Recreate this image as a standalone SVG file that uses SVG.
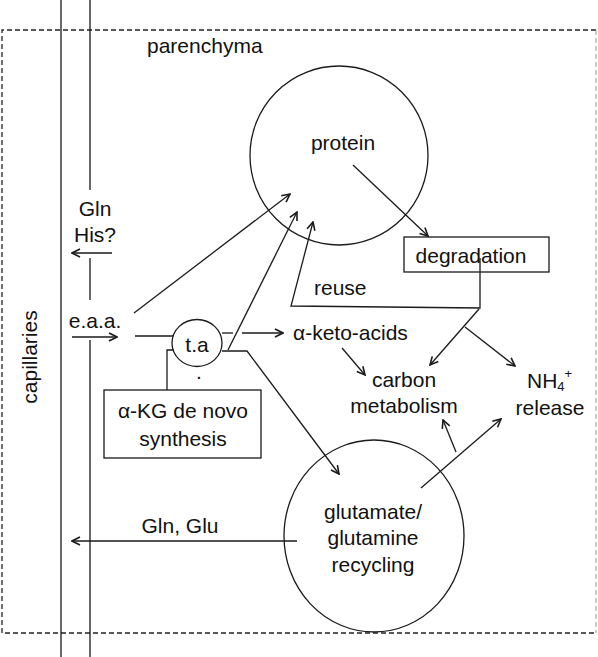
<svg xmlns="http://www.w3.org/2000/svg" width="598" height="657" viewBox="0 0 598 657">
<style>
text{font-family:"Liberation Sans",Arial,sans-serif;font-size:21px;fill:#111}
.m{text-anchor:middle}
.l{fill:none;stroke:#1a1a1a;stroke-width:1.3}
.a{marker-end:url(#ah)}
</style>
<defs>
<marker id="ah" viewBox="0 0 10 10" refX="9" refY="5" markerWidth="10" markerHeight="10" markerUnits="userSpaceOnUse" orient="auto">
<path d="M1,1 L9,5 L1,9" fill="none" stroke="#1a1a1a" stroke-width="1.6"/>
</marker>
</defs>
<g id="frame">
<path d="M596,30 L2,30 L2,633 L596,633" fill="none" stroke="#222" stroke-width="1.3" stroke-dasharray="5,3"/>
<path d="M596,30 L596,633" fill="none" stroke="#999" stroke-width="1" stroke-dasharray="5,3"/>
<text x="147" y="53">parenchyma</text>
</g>
<g id="capillaries">
<line x1="61" y1="0" x2="61" y2="657" class="l"/>
<path d="M90,0 L90,190 M90,258 L90,300 M90,340 L90,657" class="l"/>
<text class="m" transform="translate(37,357) rotate(-90)">capillaries</text>
</g>
<g id="protein">
<ellipse cx="339" cy="155.5" rx="89" ry="89.5" class="l"/>
<text x="343" y="150" class="m">protein</text>
</g>
<g id="degradation">
<rect x="404" y="237" width="145" height="35" class="l"/>
<text x="471" y="263" class="m">degradation</text>
</g>
<g id="ta">
<ellipse cx="197" cy="343" rx="25" ry="23.5" class="l"/>
<text x="197" y="352" class="m">t.a</text>
<text x="199" y="379" class="m">.</text>
</g>
<g id="akg">
<rect x="104" y="390" width="157" height="68" class="l"/>
<text x="183" y="418" class="m">α-KG de novo</text>
<text x="183" y="446" class="m">synthesis</text>
</g>
<g id="glutamate">
<ellipse cx="374" cy="536" rx="90" ry="96" class="l"/>
<text x="373" y="519" class="m">glutamate/</text>
<text x="373" y="545" class="m">glutamine</text>
<text x="373" y="572" class="m">recycling</text>
</g>
<g id="labels">
<text x="95" y="216" class="m">Gln</text>
<text x="95" y="242" class="m">His?</text>
<text x="95" y="328" class="m">e.a.a.</text>
<text x="293" y="340">α-keto-acids</text>
<text x="404" y="387" class="m">carbon</text>
<text x="404" y="413" class="m">metabolism</text>
<text x="527" y="388">NH<tspan font-size="13" dy="3">4</tspan><tspan font-size="13" dy="-13">+</tspan></text>
<text x="550" y="415" class="m">release</text>
<text x="314" y="295">reuse</text>
<text x="180" y="533" class="m">Gln, Glu</text>
</g>
<g id="connectors">
<path d="M112,253 L72,253" class="l a"/>
<path d="M72,337 L117,337" class="l a"/>
<path d="M134,313 L290,194" class="l a"/>
<path d="M135,336 L173,336" class="l"/>
<path d="M228,350 L297,212" class="l a"/>
<path d="M222,333 L233,333" class="l"/>
<path d="M242,333 L283,333" class="l a"/>
<path d="M174,350 L167,350 L167,390" class="l"/>
<path d="M222,351 L247,351 L339,474" class="l a"/>
<path d="M353,165 L428,236" class="l a"/>
<path d="M480,258 L480,308 L291,306 L313,222" class="l a"/>
<path d="M479,309 L430,365" class="l a"/>
<path d="M465,327 L515,366" class="l a"/>
<path d="M342,348 L365,375" class="l a"/>
<path d="M421,488 L501,419" class="l a"/>
<path d="M456,452 L443,420" class="l a"/>
<path d="M297,541 L72,541" class="l a"/>
</g>
</svg>
